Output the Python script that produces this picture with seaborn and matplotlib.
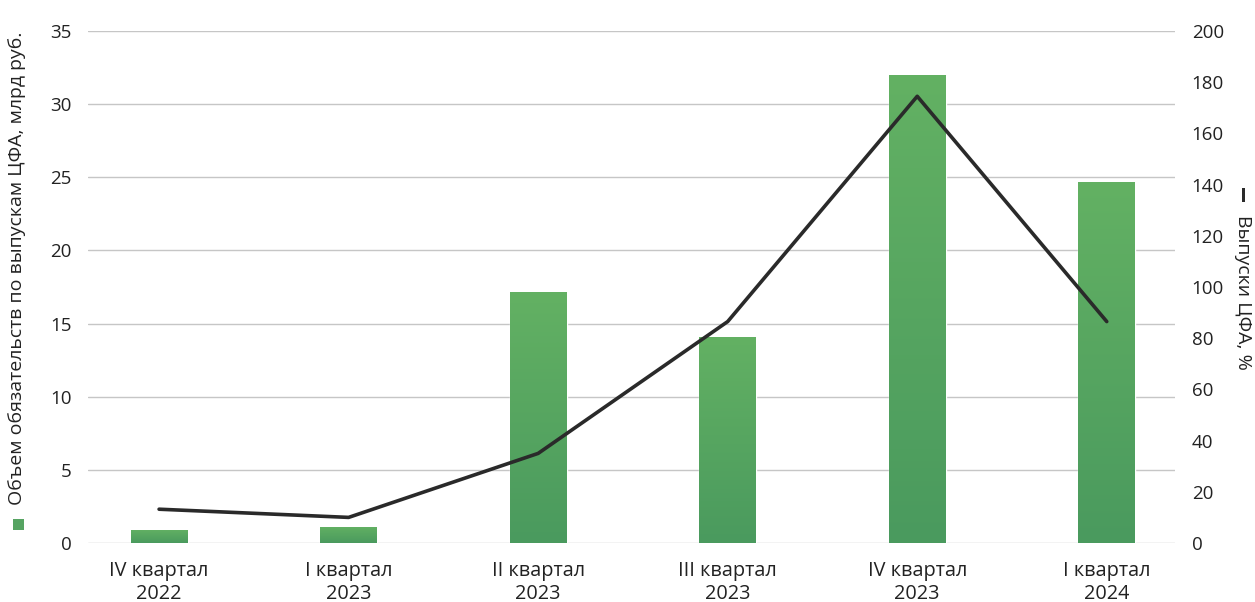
import numpy as np
import pandas as pd
import matplotlib
matplotlib.use("Agg")
import matplotlib.pyplot as plt
import seaborn as sns
from matplotlib.colors import LinearSegmentedColormap
from matplotlib.patches import Rectangle

categories = ["IV квартал\n2022", "I квартал\n2023", "II квартал\n2023",
              "III квартал\n2023", "IV квартал\n2023", "I квартал\n2024"]
volume_bn = [0.9, 1.1, 17.15, 14.1, 32.0, 24.7]
issues_pct = [13.2, 10.0, 35.0, 86.5, 174.5, 86.5]
left_ticks = [0, 5, 10, 15, 20, 25, 30, 35]
right_ticks = [0, 20, 40, 60, 80, 100, 120, 140, 160, 180, 200]
left_label = "Объем обязательств по выпускам ЦФА, млрд руб."
right_label = "Выпуски ЦФА, %"

sns.set_theme(style="white")
plt.rcParams['font.family'] = ['Open Sans', 'DejaVu Sans']
TXT = "#222222"
W, H = 1255, 602

df = pd.DataFrame({"cat": categories, "vol": volume_bn, "pct": issues_pct,
                   "pos": np.arange(len(categories))})

fig = plt.figure(figsize=(12.55, 6.02), dpi=100)
ax = fig.add_axes([88/W, 1-543/H, (1175-88)/W, (543-31)/H])

sns.barplot(data=df, x="cat", y="vol", ax=ax, color="#56a462", width=0.30,
            saturation=1, order=categories)

grad = LinearSegmentedColormap.from_list("g", ["#4a9a5e", "#63b163"])
for p in ax.patches:
    x0, y0 = p.get_x(), p.get_y()
    w, h = p.get_width(), p.get_height()
    im = ax.imshow(np.linspace(0, 1, 256).reshape(-1, 1), cmap=grad, origin="lower",
                   extent=[x0, x0 + w, y0, y0 + h], aspect="auto", zorder=p.get_zorder() + 0.1)
    im.set_clip_path(p)

ax.set_ylim(0, 35)
ax.set_xlim(-0.375, 5.36)
ax.set_yticks(left_ticks)
ax.set_yticklabels([str(t) for t in left_ticks], fontsize=13.5, color=TXT)
ax.yaxis.grid(True, color="#c6c6c6", linewidth=1.0)
ax.set_axisbelow(True)
for s in ax.spines.values():
    s.set_visible(False)
ax.tick_params(axis="y", length=0, pad=12)
ax.tick_params(axis="x", length=0, pad=13)
ax.set_xticks(range(len(categories)))
ax.set_xticklabels(categories, fontsize=14.3, color=TXT, linespacing=1.2)
ax.set_xlabel("")
ax.set_ylabel("")

ax2 = ax.twinx()
sns.lineplot(data=df, x="pos", y="pct", ax=ax2, color="#2a2a2a", linewidth=2.6)
ax2.set_ylim(0, 200)
ax2.set_xlim(-0.375, 5.36)
ax2.set_yticks(right_ticks)
ax2.set_yticklabels([str(t) for t in right_ticks], fontsize=13.5, color=TXT)
ax2.tick_params(axis="y", length=0, pad=12)
for s in ax2.spines.values():
    s.set_visible(False)
ax2.set_xlabel("")
ax2.set_ylabel("")
ax2.grid(False)

fig.text(17/W, 1-268/H, left_label, rotation=90, ha="center", va="center",
         fontsize=14, color=TXT)
fig.patches.append(Rectangle((13/W, 1-530/H), 11/W, 11/H, transform=fig.transFigure,
                             facecolor="#56a462", edgecolor="none"))
fig.text(1243/W, 1-292/H, right_label, rotation=270, ha="center", va="center",
         fontsize=14, color=TXT)
fig.patches.append(Rectangle((1241.5/W, 1-202/H), 3.5/W, 14/H, transform=fig.transFigure,
                             facecolor="#2a2a2a", edgecolor="none"))

fig.savefig("out.png", dpi=100, facecolor="white")
